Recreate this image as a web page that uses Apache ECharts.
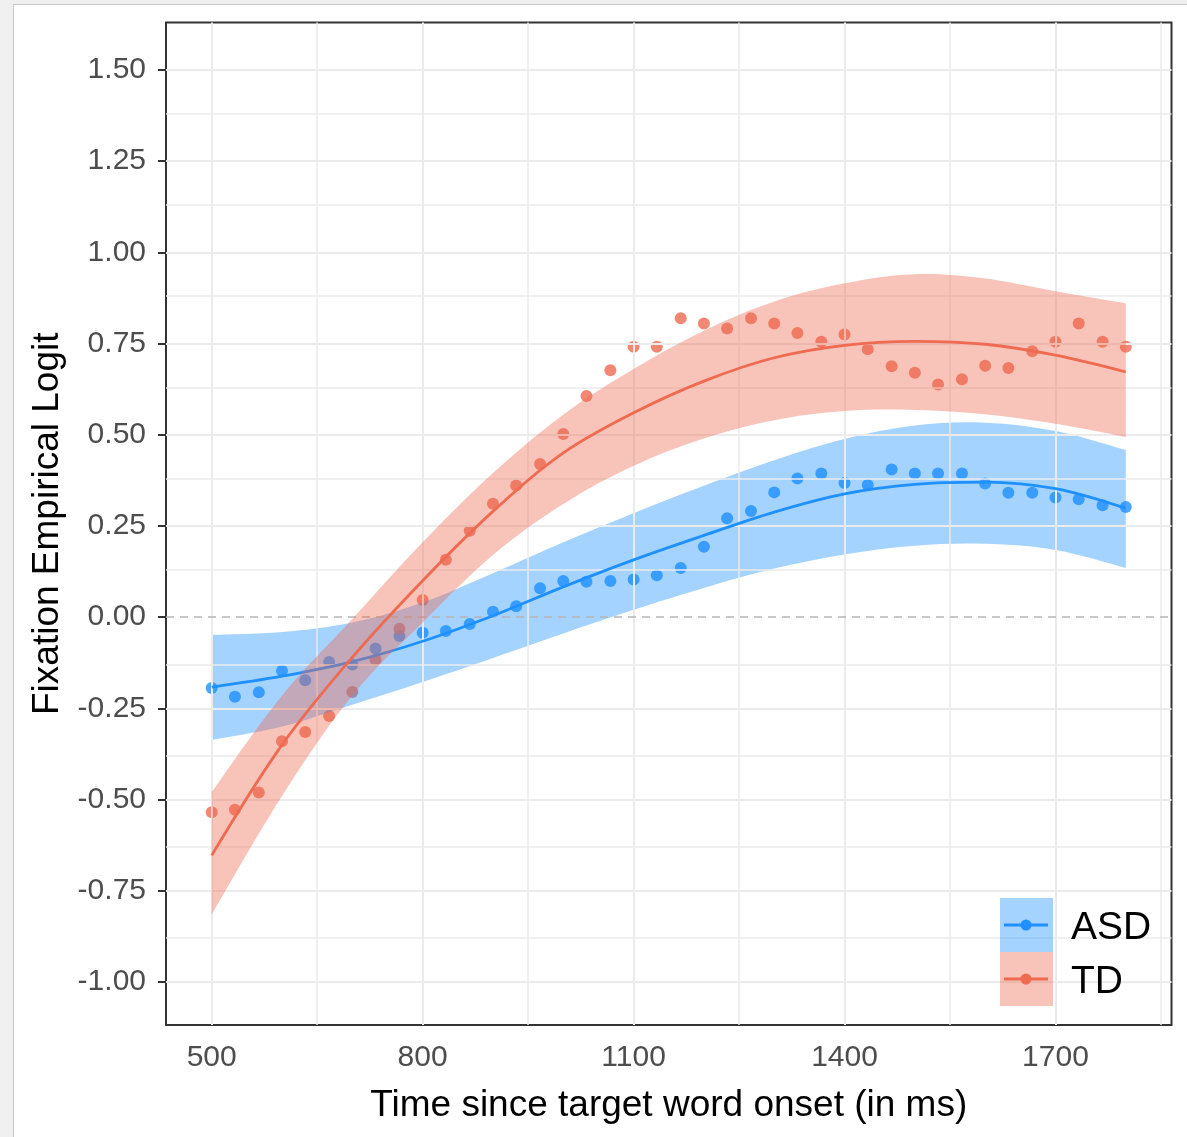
<!DOCTYPE html>
<html>
<head>
<meta charset="utf-8">
<script src="https://cdn.jsdelivr.net/npm/echarts@6/dist/echarts.min.js"></script>
<style>
  html, body { margin: 0; padding: 0; width: 1187px; height: 1137px; background: #f0f0f0; overflow: hidden; }
  #frame { position: absolute; left: 13px; top: 4px; width: 1174px; height: 1133px; background: #ffffff; border-left: 1px solid #c8c8c8; border-top: 1px solid #c8c8c8; }
  #chart { position: absolute; left: 0; top: 0; width: 1187px; height: 1137px; }
</style>
</head>
<body>
<div id="frame"></div>
<div id="chart"></div>
<script>
// ---- data ----
const timePts = [500, 533, 567, 600, 633, 667, 700, 733, 767, 800,
                 833, 867, 900, 933, 967, 1000, 1033, 1067, 1100, 1133,
                 1167, 1200, 1233, 1267, 1300, 1333, 1367, 1400, 1433, 1467,
                 1500, 1533, 1567, 1600, 1633, 1667, 1700, 1733, 1767, 1800];
const asdPts = [-0.194, -0.218, -0.206, -0.147, -0.173, -0.123, -0.130, -0.086, -0.052, -0.043,
                -0.038, -0.019, 0.015, 0.030, 0.079, 0.099, 0.097, 0.099, 0.103, 0.115,
                0.135, 0.193, 0.271, 0.291, 0.342, 0.380, 0.394, 0.368, 0.362, 0.405,
                0.394, 0.394, 0.394, 0.366, 0.341, 0.341, 0.328, 0.323, 0.307, 0.302];
const tdPts  = [-0.535, -0.528, -0.481, -0.340, -0.315, -0.271, -0.205, -0.117, -0.032, 0.047,
                0.157, 0.237, 0.311, 0.361, 0.420, 0.502, 0.606, 0.677, 0.741, 0.741,
                0.819, 0.805, 0.791, 0.819, 0.805, 0.779, 0.755, 0.775, 0.734, 0.688,
                0.670, 0.638, 0.652, 0.689, 0.683, 0.729, 0.755, 0.805, 0.755, 0.741];

const fitX   = [500, 600, 700, 800, 900, 1000, 1100, 1200, 1300, 1400, 1500, 1600, 1700, 1800];
const asdFit = [-0.192, -0.162, -0.122, -0.066, 0.004, 0.083, 0.157, 0.224, 0.288, 0.338, 0.364, 0.370, 0.352, 0.298];
const asdLo  = [-0.337, -0.300, -0.240, -0.178, -0.112, -0.045, 0.020, 0.080, 0.133, 0.172, 0.196, 0.201, 0.184, 0.135];
const asdHi  = [-0.049, -0.041, -0.015, 0.040, 0.120, 0.205, 0.285, 0.360, 0.430, 0.488, 0.525, 0.533, 0.510, 0.458];
const tdFit  = [-0.653, -0.350, -0.110, 0.100, 0.290, 0.450, 0.560, 0.647, 0.711, 0.745, 0.756, 0.748, 0.718, 0.672];
const tdLo   = [-0.815, -0.490, -0.215, -0.015, 0.170, 0.310, 0.415, 0.490, 0.540, 0.565, 0.568, 0.556, 0.530, 0.494];
const tdHi   = [-0.480, -0.215, -0.005, 0.205, 0.395, 0.555, 0.680, 0.785, 0.865, 0.915, 0.940, 0.928, 0.893, 0.860];

const xTicks = [500, 800, 1100, 1400, 1700];
const yTicks = [-1.0, -0.75, -0.5, -0.25, 0.0, 0.25, 0.5, 0.75, 1.0, 1.25, 1.5];
const xGridMajor = [500, 800, 1100, 1400, 1700];
const xGridMinor = [650, 950, 1250, 1550, 1850];
const yGridMajor = [-1.0, -0.75, -0.5, -0.25, 0.25, 0.5, 0.75, 1.0, 1.25, 1.5];
const yGridMinor = [-0.875, -0.625, -0.375, -0.125, 0.125, 0.375, 0.625, 0.875, 1.125, 1.375];

const groups = ['ASD', 'TD'];
const BLUE = '#1E90FF', RED = '#EE6A50';
const BLUE_FILL = 'rgba(30,144,255,0.4)', RED_FILL = 'rgba(238,106,80,0.4)';
const FONT = "'Liberation Sans', Arial, sans-serif";
const SMOOTH = 0.35;

const chart = echarts.init(document.getElementById('chart'), null, { renderer: 'canvas' });

// smooth cubic path through pixel points (drawing only; points come from api.coord)
function curveCmds(pts) {
  let d = '';
  const k = SMOOTH * 0.5;
  for (let i = 0; i < pts.length - 1; i++) {
    const p0 = pts[i - 1] || pts[i], p1 = pts[i], p2 = pts[i + 1], p3 = pts[i + 2] || pts[i + 1];
    const c1x = p1[0] + (p2[0] - p0[0]) * k, c1y = p1[1] + (p2[1] - p0[1]) * k;
    const c2x = p2[0] - (p3[0] - p1[0]) * k, c2y = p2[1] - (p3[1] - p1[1]) * k;
    d += ' C' + c1x + ',' + c1y + ' ' + c2x + ',' + c2y + ' ' + p2[0] + ',' + p2[1];
  }
  return d;
}

function ribbon(lo, hi, fill, z, name) {
  return {
    type: 'custom', name: name, z: z, silent: true,
    data: fitX.map((x, i) => [x, lo[i], hi[i]]),
    encode: { x: 0, y: [1, 2] },
    renderItem: function (params, api) {
      if (params.dataIndex !== 0) return null;
      const top = fitX.map((x, i) => api.coord([x, hi[i]]));
      const bot = fitX.map((x, i) => api.coord([x, lo[i]])).reverse();
      const d = 'M' + top[0][0] + ',' + top[0][1] + curveCmds(top) +
                ' L' + bot[0][0] + ',' + bot[0][1] + curveCmds(bot) + ' Z';
      return { type: 'path', shape: { pathData: d }, style: { fill: fill, stroke: null } };
    }
  };
}

const gridLines = []
  .concat(xGridMajor.map(v => ({ xAxis: v, lineStyle: { color: '#EBEBEB', width: 2, type: 'solid' } })))
  .concat(xGridMinor.map(v => ({ xAxis: v, lineStyle: { color: '#EBEBEB', width: 1.5, type: 'solid' } })))
  .concat(yGridMajor.map(v => ({ yAxis: v, lineStyle: { color: '#EBEBEB', width: 2, type: 'solid' } })))
  .concat(yGridMinor.map(v => ({ yAxis: v, lineStyle: { color: '#EBEBEB', width: 1.5, type: 'solid' } })))
  .concat([{ yAxis: 0, lineStyle: { color: '#B5B5B5', width: 1.5, type: [8, 6] } }]);

const option = {
  animation: false,
  backgroundColor: 'transparent',
  grid: { left: 166, top: 22.5, width: 1005.5, height: 1002.5, show: true, borderColor: '#333333', borderWidth: 2, backgroundColor: '#ffffff', containLabel: false },
  xAxis: {
    type: 'value', min: 435, max: 1865,
    name: 'Time since target word onset (in ms)', nameLocation: 'middle', nameGap: 62,
    nameTextStyle: { color: '#000', fontSize: 37, fontFamily: FONT },
    axisLine: { show: false },
    splitLine: { show: false },
    axisTick: { show: true, customValues: xTicks, length: 8, lineStyle: { color: '#333', width: 2 } },
    axisLabel: { show: true, customValues: xTicks, margin: 18, color: '#4D4D4D', fontSize: 30, fontFamily: FONT, formatter: v => String(v) }
  },
  yAxis: {
    type: 'value', min: -1.118, max: 1.630,
    name: 'Fixation Empirical Logit', nameLocation: 'middle', nameGap: 81, nameRotate: 90,
    nameTextStyle: { color: '#000', fontSize: 37, fontFamily: FONT },
    axisLine: { show: false },
    splitLine: { show: false },
    axisTick: { show: true, customValues: yTicks, length: 8, lineStyle: { color: '#333', width: 2 } },
    axisLabel: { show: true, customValues: yTicks, margin: 20, color: '#4D4D4D', fontSize: 30, fontFamily: FONT, formatter: v => v.toFixed(2) }
  },
  series: [
    {
      type: 'line', name: 'gridlines', z: 1, silent: true, data: [], showSymbol: false,
      markLine: { silent: true, symbol: ['none', 'none'], label: { show: false }, animation: false, data: gridLines }
    },
    {
      type: 'scatter', name: 'ASD points', z: 3, symbol: 'circle', symbolSize: 12,
      itemStyle: { color: BLUE }, data: timePts.map((t, i) => [t, asdPts[i]])
    },
    {
      type: 'scatter', name: 'TD points', z: 3, symbol: 'circle', symbolSize: 12,
      itemStyle: { color: RED }, data: timePts.map((t, i) => [t, tdPts[i]])
    },
    ribbon(asdLo, asdHi, BLUE_FILL, 4, 'ASD band'),
    {
      type: 'line', name: 'ASD', z: 5, smooth: SMOOTH, showSymbol: false, symbol: 'none',
      lineStyle: { color: BLUE, width: 2.8 }, data: fitX.map((x, i) => [x, asdFit[i]])
    },
    ribbon(tdLo, tdHi, RED_FILL, 6, 'TD band'),
    {
      type: 'line', name: 'TD', z: 7, smooth: SMOOTH, showSymbol: false, symbol: 'none',
      lineStyle: { color: RED, width: 2.8 }, data: fitX.map((x, i) => [x, tdFit[i]])
    }
  ],
  graphic: [
    { type: 'rect', left: 1000, top: 898, shape: { width: 53, height: 54 }, style: { fill: BLUE_FILL }, z: 10 },
    { type: 'rect', left: 1000, top: 952, shape: { width: 53, height: 54 }, style: { fill: RED_FILL }, z: 10 },
    { type: 'line', shape: { x1: 1004, y1: 925, x2: 1048, y2: 925 }, style: { stroke: BLUE, lineWidth: 3 }, z: 11 },
    { type: 'circle', shape: { cx: 1026, cy: 925, r: 5.5 }, style: { fill: BLUE }, z: 11 },
    { type: 'line', shape: { x1: 1004, y1: 979, x2: 1048, y2: 979 }, style: { stroke: RED, lineWidth: 3 }, z: 11 },
    { type: 'circle', shape: { cx: 1026, cy: 979, r: 5.5 }, style: { fill: RED }, z: 11 },
    { type: 'text', x: 1071, y: 928, style: { text: groups[0], fill: '#000', font: "39px " + FONT, textVerticalAlign: 'middle' }, z: 11 },
    { type: 'text', x: 1071, y: 982, style: { text: groups[1], fill: '#000', font: "39px " + FONT, textVerticalAlign: 'middle' }, z: 11 }
  ]
};
chart.setOption(option);
</script>
</body>
</html>
